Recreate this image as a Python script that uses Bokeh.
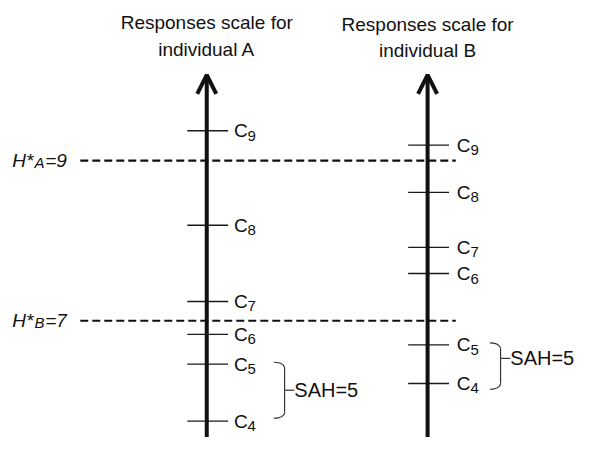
from bokeh.plotting import figure
from bokeh.models import Range1d, Arrow, OpenHead
from bokeh.core.properties import value
from bokeh.embed import file_html
from bokeh.resources import INLINE

# ---- data (latent response positions; larger = higher on the scale) ----
scale_names = ["A", "B"]
thresholds = ["4", "5", "6", "7", "8", "9"]
cut_A = [17, 76, 107, 141, 220, 318]     # C4..C9 for individual A
cut_B = [56, 96, 170, 197, 254, 303]     # C4..C9 for individual B
h_star_A = 287                            # H*_A = 9 level
h_star_B = 121                            # H*_B = 7 level
h_labels = [("A", "=9"), ("B", " =7")]
sah_label = "SAH=5"
title_lines = ["Responses scale for", "individual"]

# ---- layout constants ----
axis_x = [212, 439]
top_v = 453 - 77
bottom_v = 0

FONT = value("Liberation Sans")
INK = "#111111"

p = figure(width=574, height=437, x_range=Range1d(0, 590), y_range=Range1d(0, 453),
           output_backend="svg", toolbar_location=None, min_border=0)
p.axis.visible = False
p.grid.visible = False
p.outline_line_color = None
p.background_fill_color = "white"

# dashed threshold lines
for hv in [h_star_A, h_star_B]:
    p.line(x=[82, 468], y=[hv, hv], line_color=INK, line_width=2.2, line_dash="8 4")

for i, (name, cuts) in enumerate(zip(scale_names, [cut_A, cut_B])):
    ax = axis_x[i]
    # tick marks
    p.segment(x0=[ax - 20] * len(cuts), y0=cuts, x1=[ax + 22] * len(cuts), y1=cuts,
              line_color="#1a1a1a", line_width=1.3)
    # main axis with open arrow head
    p.add_layout(Arrow(x_start=ax, y_start=bottom_v, x_end=ax, y_end=top_v,
                       line_width=4, line_color=INK,
                       end=OpenHead(size=19, line_width=4, line_color=INK)))
    # labels C_k
    lx = ax + 28 if i == 0 else ax + 30
    p.text(x=[lx] * len(cuts), y=cuts, text=["C"] * len(cuts), text_font=FONT,
           text_font_size="19px", text_baseline="middle", text_color=INK)
    p.text(x=[lx + 14] * len(cuts), y=cuts, text=thresholds, text_font=FONT,
           text_font_size="15px", text_baseline="middle", text_color=INK, y_offset=5)
    # titles
    ty = [453 - 23, 453 - 51] if i == 0 else [453 - 25, 453 - 52]
    p.text(x=[ax, ax], y=ty, text=[title_lines[0], title_lines[1] + " " + name],
           text_font=FONT, text_font_size="19px", text_align="center",
           text_baseline="middle", text_color=INK)
    # curly brace between C5 and C4
    top = cuts[1] + 2
    bot = cuts[0] + (3 if i == 0 else -6)
    x0 = ax + (69 if i == 0 else 64)
    xv = x0 + 11
    xt = xv + 7
    mid = (top + bot) / 2 if i == 0 else top - 16
    r = 6
    p.bezier(x0=[x0, xv, xv, xv], y0=[top, top - r, mid, bot + r],
             x1=[xv, xv, xv, x0], y1=[top - r, mid, bot + r, bot],
             cx0=[xv, xv, xv, xv], cy0=[top, mid + 3, mid, bot + r],
             cx1=[xv, xv, xv, xv], cy1=[top - r, mid, bot + r, bot],
             line_color="#333333", line_width=1.2)
    p.segment(x0=[xv], y0=[mid], x1=[xt + 3], y1=[mid], line_color="#333333", line_width=1.2)
    p.text(x=[xt + 3], y=[mid], text=[sah_label], text_font=FONT, text_font_size="20px",
           text_baseline="middle", text_color=INK)

# H* labels
for hv, (sub, rest) in zip([h_star_A, h_star_B], h_labels):
    p.text(x=[12], y=[hv], text=["H*"], text_font=FONT, text_font_size="19px",
           text_font_style="italic", text_baseline="alphabetic", text_color=INK)
    p.text(x=[35], y=[hv], text=[sub], text_font=FONT, text_font_size="15px",
           text_font_style="italic", text_baseline="alphabetic", text_color=INK, y_offset=2)
    p.text(x=[46], y=[hv], text=[rest], text_font=FONT, text_font_size="19px",
           text_font_style="italic", text_baseline="alphabetic", text_color=INK)

open("out.html", "w").write(file_html(p, INLINE))
